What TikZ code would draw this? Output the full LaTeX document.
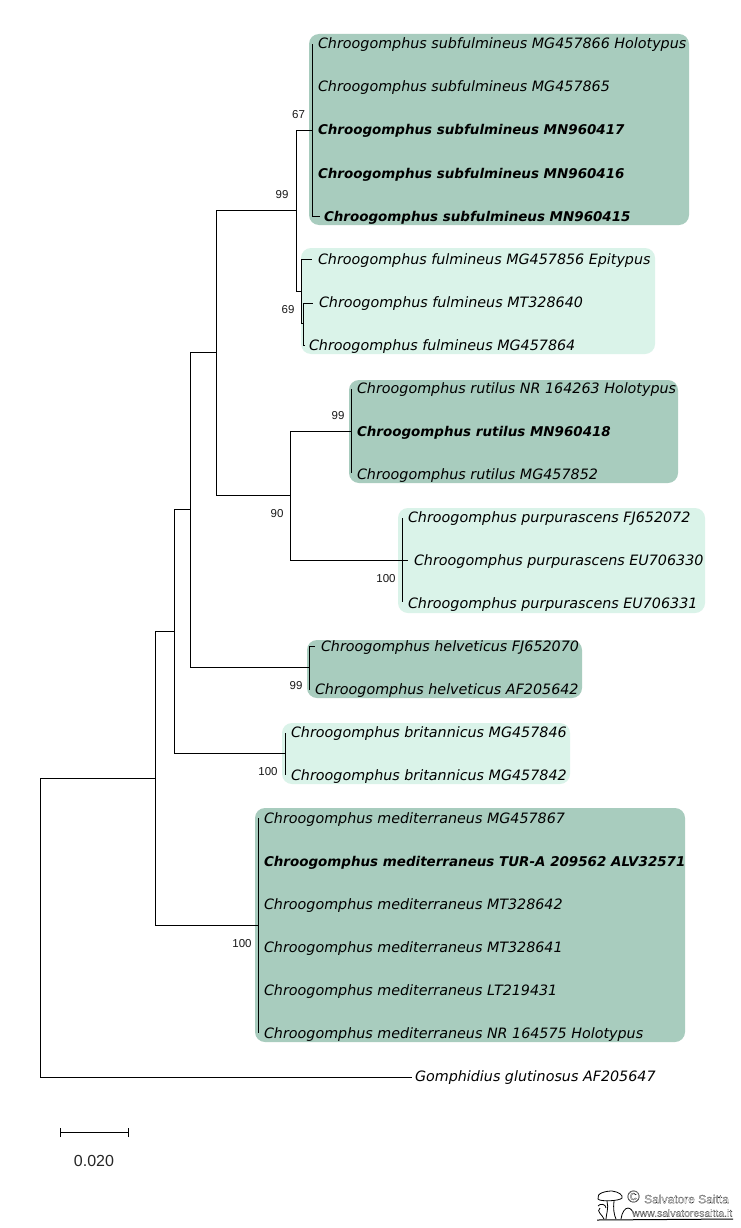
\documentclass[tikz,border=0pt]{standalone}
\usepackage{fontspec}
\setmainfont{DejaVu Sans}
\newfontfamily\labfont{Liberation Sans}
\newfontfamily\wmfont[FakeBold=1.0]{Liberation Sans}
\newfontfamily\leaffont[ItalicFont={DejaVu Sans Oblique},BoldItalicFont={DejaVu Sans Bold Oblique}]{DejaVu Sans}
\definecolor{darkgrp}{HTML}{A8CCBE}
\definecolor{lightgrp}{HTML}{DAF3E9}
\tikzset{
  grp/.style={rounded corners=10pt,draw=none},
  leaf/.style={anchor=west,inner sep=0pt,outer sep=0pt,font=\leaffont\fontsize{14.3pt}{16pt}\selectfont\itshape,text height=11pt,text depth=3pt},
  bleaf/.style={leaf,font=\leaffont\fontsize{13.45pt}{16pt}\selectfont\bfseries\itshape},
  boot/.style={inner sep=0pt,font=\labfont\fontsize{11.5pt}{12pt}\selectfont,text=black!90},
  br/.style={draw=black,line width=0.9pt},
}
\begin{document}
\begin{tikzpicture}[x=1pt,y=-1pt]
\useasboundingbox (0,0) rectangle (740,1228);
\fill[white] (0,0) rectangle (740,1228);
% groups
\fill[grp,darkgrp] (309,34) rectangle (689,225);
\fill[grp,lightgrp] (301,248) rectangle (655,354);
\fill[grp,darkgrp] (349,380) rectangle (678,483);
\fill[grp,lightgrp] (398,508) rectangle (705,613);
\fill[grp,darkgrp] (307,640) rectangle (582,698);
\fill[grp,lightgrp] (282,723) rectangle (570,784);
\fill[grp,darkgrp] (255,808) rectangle (685,1042);
% leaves
\node[leaf] (a1) at (318,45) {Chroogomphus subfulmineus MG457866 Holotypus};
\node[leaf] (a2) at (318,88) {Chroogomphus subfulmineus MG457865};
\node[bleaf] (a3) at (318,131) {Chroogomphus subfulmineus MN960417};
\node[bleaf] (a4) at (318,174) {Chroogomphus subfulmineus MN960416};
\node[bleaf] (a5) at (324,217) {Chroogomphus subfulmineus MN960415};
\node[leaf] (b1) at (318,260) {Chroogomphus fulmineus MG457856 Epitypus};
\node[leaf] (b2) at (319,303) {Chroogomphus fulmineus MT328640};
\node[leaf] (b3) at (309,346) {Chroogomphus fulmineus MG457864};
\node[leaf] (c1) at (357,389) {Chroogomphus rutilus NR 164263 Holotypus};
\node[bleaf] (c2) at (357,432) {Chroogomphus rutilus MN960418};
\node[leaf] (c3) at (357,475) {Chroogomphus rutilus MG457852};
\node[leaf] (d1) at (408,518) {Chroogomphus purpurascens FJ652072};
\node[leaf] (d2) at (414,561) {Chroogomphus purpurascens EU706330};
\node[leaf] (d3) at (408,604) {Chroogomphus purpurascens EU706331};
\node[leaf] (e1) at (321,647) {Chroogomphus helveticus FJ652070};
\node[leaf] (e2) at (315,690) {Chroogomphus helveticus AF205642};
\node[leaf] (f1) at (291,733) {Chroogomphus britannicus MG457846};
\node[leaf] (f2) at (291,776) {Chroogomphus britannicus MG457842};
\node[leaf] (g1) at (264,819) {Chroogomphus mediterraneus MG457867};
\node[bleaf] (g2) at (264,862) {Chroogomphus mediterraneus TUR-A 209562 ALV32571};
\node[leaf] (g3) at (264,905) {Chroogomphus mediterraneus MT328642};
\node[leaf] (g4) at (264,948) {Chroogomphus mediterraneus MT328641};
\node[leaf] (g5) at (264,991) {Chroogomphus mediterraneus LT219431};
\node[leaf] (g6) at (264,1034) {Chroogomphus mediterraneus NR 164575 Holotypus};
\node[leaf] (h) at (415,1077.5) {Gomphidius glutinosus AF205647};
% internal branch points
\coordinate (root) at (40.5,778);
\coordinate (n1) at (155.5,778);
\coordinate (n2) at (174.5,631);
\coordinate (n3) at (190,509);
\coordinate (n4) at (216.5,352);
\coordinate (n5) at (296,210);
\coordinate (n6) at (312,130);
\coordinate (n7) at (301,291);
\coordinate (n8) at (303.5,323);
\coordinate (n9) at (290,495);
\coordinate (n10) at (351,431);
\coordinate (n11) at (402,560);
\coordinate (n12) at (309,667);
\coordinate (n13) at (285.5,753);
\coordinate (n14) at (258.5,925);
\coordinate (tipa1) at (312,44);
\coordinate (tipa5) at (320,216);
\coordinate (tipb1) at (312,259);
\coordinate (tipb2) at (313,303);
\coordinate (tipb3) at (304,345);
\coordinate (tipc1) at (351,389);
\coordinate (tipc3) at (351,473);
\coordinate (tipd1) at (402,518);
\coordinate (tipd2) at (408,560);
\coordinate (tipd3) at (402,602);
\coordinate (tipe1) at (315,646);
\coordinate (tipe2) at (310,689);
\coordinate (tipf1) at (285.5,733);
\coordinate (tipf2) at (285.5,775);
\coordinate (tipg1) at (258.5,818);
\coordinate (tipg6) at (258.5,1033);
\coordinate (tiph) at (412,1077);
% branches
\draw[br] (root) |- (n1);
\draw[br] (root) |- (tiph);
\draw[br] (n1) |- (n2);
\draw[br] (n1) |- (n14);
\draw[br] (n2) |- (n3);
\draw[br] (n2) |- (n13);
\draw[br] (n3) |- (n4);
\draw[br] (n3) |- (n12);
\draw[br] (n4) |- (n5);
\draw[br] (n4) |- (n9);
\draw[br] (n5) |- (n6);
\draw[br] (n5) |- (n7);
\draw[br] (n6) |- (tipa1);
\draw[br] (n6) |- (tipa5);
\draw[br] (n7) |- (tipb1);
\draw[br] (n7) |- (n8);
\draw[br] (n8) |- (tipb2);
\draw[br] (n8) |- (tipb3);
\draw[br] (n9) |- (n10);
\draw[br] (n9) |- (n11);
\draw[br] (n10) |- (tipc1);
\draw[br] (n10) |- (tipc3);
\draw[br] (n11) |- (tipd1);
\draw[br] (n11) |- (tipd2);
\draw[br] (n11) |- (tipd3);
\draw[br] (n12) |- (tipe1);
\draw[br] (n12) |- (tipe2);
\draw[br] (n13) |- (tipf1);
\draw[br] (n13) |- (tipf2);
\draw[br] (n14) |- (tipg1);
\draw[br] (n14) |- (tipg6);
% bootstrap labels
\node[boot] (s1) at (298.5,115) {67};
\node[boot] (s2) at (282,195) {99};
\node[boot] (s3) at (288,310) {69};
\node[boot] (s4) at (338,416) {99};
\node[boot] (s5) at (277,514) {90};
\node[boot] (s6) at (386,579) {100};
\node[boot] (s7) at (296,686) {99};
\node[boot] (s8) at (268,772) {100};
\node[boot] (s9) at (242,944) {100};
% scale bar
\coordinate (sl) at (60.5,1132);
\coordinate (sr) at (128.5,1132);
\draw[br] (sl) -- (sr);
\draw[br] ([yshift=-5pt]sl) -- ([yshift=4pt]sl);
\draw[br] ([yshift=-5pt]sr) -- ([yshift=4pt]sr);
\node[inner sep=0pt,font=\labfont\fontsize{16pt}{16pt}\selectfont,text=black!85] (sc) at (94,1161) {0.020};
% watermark
\draw[line width=0.8pt,fill=white] (598,1199) .. controls (596,1193) and (606,1191) .. (612,1191) .. controls (619,1192) and (623,1195) .. (622,1198) .. controls (620,1201) and (600,1202) .. (598,1199) -- cycle;
\draw[line width=0.8pt] (607,1201) .. controls (609,1208) and (606,1215) .. (606,1219);
\draw[line width=0.8pt] (614,1201) .. controls (613,1208) and (614,1215) .. (616,1219);
\draw[line width=0.8pt] (598,1206) .. controls (600,1203) and (606,1204) .. (606,1208) (600,1208) .. controls (596,1212) and (602,1214) .. (604,1219);
\draw[line width=0.8pt] (621,1219) .. controls (622,1212) and (625,1208) .. (628,1208) .. controls (631,1208) and (633,1212) .. (634,1214);
\draw[line width=1pt] (597,1220) -- (733,1219);
\node[inner sep=0pt,font=\wmfont\fontsize{17pt}{17pt}\selectfont] (wc) at (633.5,1196.5) {\special{pdf:code 1 1 1 rg}©\special{pdf:code 0 0 0 rg}};
\node[anchor=west,inner sep=0pt,font=\wmfont\fontsize{12pt}{13pt}\selectfont] (wn) at (644,1199) {\special{pdf:code 1 1 1 rg}Salvatore Saitta\special{pdf:code 0 0 0 rg}};
\node[anchor=west,inner sep=0pt,font=\wmfont\fontsize{10.4pt}{12pt}\selectfont] (wu) at (632,1213) {\special{pdf:code 1 1 1 rg}www.salvatoresaitta.it\special{pdf:code 0 0 0 rg}};
\end{tikzpicture}
\end{document}
